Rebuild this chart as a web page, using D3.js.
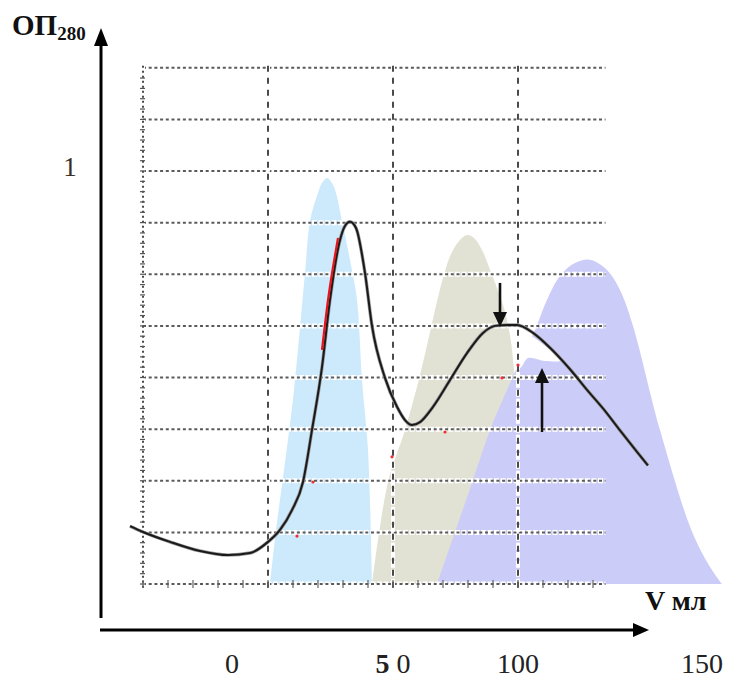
<!DOCTYPE html>
<html>
<head>
<meta charset="utf-8">
<script src="https://cdn.jsdelivr.net/npm/d3@7"></script>
<style>
  body { margin: 0; background: #fff; }
  text { font-family: "Liberation Serif", "Times New Roman", serif; }
</style>
</head>
<body>
<div id="chart"></div>
<script>
// Elution profile: [V (ml), OD280]
let elution = [
    [-55.2, 0.140], [-50.0, 0.126], [-39.2, 0.102], [-27.2, 0.080], [-16.0, 0.070],
    [-7.2, 0.075], [0.0, 0.102], [4.8, 0.131], [9.6, 0.179], [14.0, 0.247],
    [17.6, 0.373], [21.6, 0.525], [24.8, 0.688], [28.8, 0.833], [30.8, 0.867],
    [32.8, 0.877], [35.2, 0.862], [38.8, 0.753], [41.6, 0.625], [46.8, 0.499],
    [51.6, 0.429], [54.8, 0.397], [57.6, 0.385], [60.8, 0.392], [66.0, 0.429],
    [72.8, 0.494], [79.6, 0.559], [86.0, 0.608], [90.8, 0.625], [95.6, 0.627],
    [99.6, 0.627], [106.0, 0.608], [112.8, 0.572], [120.8, 0.520], [127.6, 0.470],
    [134.0, 0.425], [140.8, 0.372], [147.6, 0.320], [152.0, 0.287]
];

// Fraction peaks (shaded)
let peakBlue = [
    [0.8, 0], [3.2, 0.131], [6.4, 0.276], [10.4, 0.470], [14.8, 0.753], [16.8, 0.879],
    [20.0, 0.947], [21.6, 0.971], [23.6, 0.983], [25.6, 0.971], [27.2, 0.947],
    [29.6, 0.879], [32.8, 0.785], [35.6, 0.688], [37.6, 0.494], [40.0, 0.324], [41.6, 0]
];
let peakBeige = [
    [41.6, 0], [48.0, 0.247], [54.8, 0.373], [60.8, 0.506], [70.0, 0.741], [73.6, 0.804],
    [76.8, 0.833], [79.6, 0.845], [82.4, 0.838], [85.6, 0.809], [89.6, 0.748],
    [94.0, 0.676], [96.8, 0.603], [98.8, 0.494], [101.6, 0.324], [105.6, 0]
];
let peakViolet = [
    [67.6, 0], [82.0, 0.252], [88.8, 0.373], [95.6, 0.470], [101.6, 0.550], [106.8, 0.615],
    [111.6, 0.688], [116.8, 0.746], [122.8, 0.777], [128.8, 0.785], [135.6, 0.760],
    [140.8, 0.712], [146.0, 0.625], [156.8, 0.373], [170.0, 0.121], [177.6, 0.034], [181.6, 0]
];
let notch = [
    [98.0, 0.622], [104.8, 0.603], [112.0, 0.571], [117.6, 0.542], [110.8, 0.540],
    [104.0, 0.547], [100.8, 0.523], [98.4, 0.567]
];

// Red trace and specks
let redTrace = [[21.6, 0.567], [24.4, 0.705], [28.0, 0.838]];
let redSpecks = [[18.0, 0.247], [11.6, 0.116], [49.6, 0.308], [93.6, 0.499], [100.0, 0.530], [70.8, 0.368]];

// Arrows: [V, OD start, OD tip]
let arrows = [[92.8, 0.729, 0.622], [109.6, 0.368, 0.523]];

// Axis labels
let xTickValues = [0, 50, 100, 150];
let xTickLabels = ['0', '5 0', '100', '150'];
let yTickValues = [1];
let gridV = [-50, 0, 50, 100];
let gridOD = d3.range(0, 1.26, 0.125);

let width = 729, height = 684;

let svg = d3.select('#chart')
    .append('svg')
    .attr('width', width)
    .attr('height', height);

svg.append('rect').attr('width', width).attr('height', height).attr('fill', '#fff');

// Scales
let x = d3.scaleLinear().domain([-50, 100]).range([143, 518]);
let y = d3.scaleLinear().domain([0, 1]).range([584, 171]);
// tick labels sit off the grid in the original figure
let xLabel = d3.scaleLinear().domain([0, 50, 100, 150]).range([232, 393, 518, 702]);
let gridEnd = 135;

let outline = d3.line()
    .x(function (d) { return x(d[0]); })
    .y(function (d) { return y(d[1]); })
    .curve(d3.curveCatmullRom.alpha(0.5));

let profile = d3.line()
    .x(function (d) { return x(d[0]); })
    .y(function (d) { return y(d[1]); })
    .curve(d3.curveMonotoneX);

// Peaks
[[peakBlue, '#cdeafc'], [peakBeige, '#e2e2d4'], [peakViolet, '#ccccf9']].forEach(function (p) {
    svg.append('path')
        .attr('d', outline(p[0]) + 'Z')
        .attr('fill', p[1]);
});
svg.append('path')
    .attr('d', outline(notch) + 'Z')
    .attr('fill', '#fff');

// Grid: white halo then dark dashes
let grid = svg.append('g');
gridOD.forEach(function (v) {
    grid.append('line')
        .attr('x1', x(-50)).attr('x2', x(gridEnd))
        .attr('y1', y(v)).attr('y2', y(v))
        .attr('stroke', '#fff').attr('stroke-width', 5)
        .attr('stroke-dasharray', '5,1.5');
    grid.append('line')
        .attr('x1', x(-50)).attr('x2', x(gridEnd))
        .attr('y1', y(v)).attr('y2', y(v))
        .attr('stroke', '#5a5a5a').attr('stroke-width', 2)
        .attr('stroke-dasharray', '3,2.7');
});
gridV.forEach(function (v) {
    grid.append('line')
        .attr('x1', x(v)).attr('x2', x(v))
        .attr('y1', y(1.25) - 2).attr('y2', y(0) + 6)
        .attr('stroke', '#fff').attr('stroke-width', 4)
        .attr('stroke-dasharray', '7,2');
    grid.append('line')
        .attr('x1', x(v)).attr('x2', x(v))
        .attr('y1', y(1.25) - 2).attr('y2', y(0) + 6)
        .attr('stroke', '#4a4a4a').attr('stroke-width', 2)
        .attr('stroke-dasharray', v === -50 ? '2,3' : '6,6');
});
// small ticks on the bottom and left grid lines
d3.range(-50, gridEnd, 10).forEach(function (v) {
    grid.append('line')
        .attr('x1', x(v)).attr('x2', x(v))
        .attr('y1', y(0) - 4).attr('y2', y(0) + 4)
        .attr('stroke', '#666').attr('stroke-width', 1.2);
});
d3.range(0, 1.25, 0.025).forEach(function (v) {
    grid.append('line')
        .attr('x1', x(-50) - 3).attr('x2', x(-50) + 2)
        .attr('y1', y(v)).attr('y2', y(v))
        .attr('stroke', '#555').attr('stroke-width', 1.2);
});

// Elution curve
svg.append('path')
    .datum(elution)
    .attr('d', profile)
    .attr('fill', 'none')
    .attr('stroke', '#999')
    .attr('stroke-width', 3.4);
svg.append('path')
    .datum(elution)
    .attr('d', profile)
    .attr('fill', 'none')
    .attr('stroke', '#1a1a1a')
    .attr('stroke-width', 2);

svg.append('path')
    .datum(redTrace)
    .attr('d', outline)
    .attr('fill', 'none')
    .attr('stroke', '#e8141c')
    .attr('stroke-width', 2.2);

svg.selectAll('.speck')
    .data(redSpecks)
    .enter().append('circle')
    .attr('cx', function (d) { return x(d[0]); })
    .attr('cy', function (d) { return y(d[1]); })
    .attr('r', 1.6)
    .attr('fill', '#f03030');

// Arrows
arrows.forEach(function (a) {
    let x0 = x(a[0]), y0 = y(a[1]), y1 = y(a[2]);
    let dir = y1 > y0 ? 1 : -1;
    svg.append('line')
        .attr('x1', x0).attr('x2', x0)
        .attr('y1', y0).attr('y2', y1 - dir * 12)
        .attr('stroke', '#111').attr('stroke-width', 2.6);
    svg.append('path')
        .attr('d', 'M' + x0 + ',' + y1 + 'L' + (x0 - 7) + ',' + (y1 - dir * 15) +
            'L' + (x0 + 7) + ',' + (y1 - dir * 15) + 'Z')
        .attr('fill', '#111');
});

// Axes (drawn as arrows below and left of the grid)
let axisColor = '#000';
svg.append('line')
    .attr('x1', 101).attr('x2', 101)
    .attr('y1', 618).attr('y2', 42)
    .attr('stroke', axisColor).attr('stroke-width', 3);
svg.append('path')
    .attr('d', 'M101,28L94,46L108,46Z')
    .attr('fill', axisColor);
svg.append('line')
    .attr('x1', 100).attr('x2', 636)
    .attr('y1', 630).attr('y2', 630)
    .attr('stroke', axisColor).attr('stroke-width', 3);
svg.append('path')
    .attr('d', 'M649,630L633,623L633,637Z')
    .attr('fill', axisColor);

// Tick labels
svg.selectAll('.xlab')
    .data(xTickValues)
    .enter().append('text')
    .attr('x', function (d) { return xLabel(d); })
    .attr('y', 673)
    .attr('text-anchor', 'middle')
    .attr('font-size', 28)
    .attr('fill', '#222')
    .each(function (d, i) {
        let parts = xTickLabels[i].split(' ');
        let t = d3.select(this);
        if (parts.length > 1) {
            t.append('tspan').attr('font-weight', 'bold').text(parts[0]);
            t.append('tspan').text(' ' + parts[1]);
        } else {
            t.text(parts[0]);
        }
    });

svg.selectAll('.ylab')
    .data(yTickValues)
    .enter().append('text')
    .attr('x', 70)
    .attr('y', function (d) { return y(d) + 5; })
    .attr('text-anchor', 'middle')
    .attr('font-size', 27)
    .attr('fill', '#3a2e22')
    .text(function (d) { return d; });

// Axis titles
let yTitle = svg.append('text')
    .attr('x', 12)
    .attr('y', 35)
    .attr('font-weight', 'bold')
    .attr('font-size', 29)
    .attr('fill', '#111');
yTitle.append('tspan').text('ОП');
yTitle.append('tspan').attr('font-size', 19).attr('dy', 5).text('280');

svg.append('text')
    .attr('x', 645)
    .attr('y', 610)
    .attr('font-weight', 'bold')
    .attr('font-size', 28)
    .attr('fill', '#111')
    .text('V мл');
</script>
</body>
</html>
